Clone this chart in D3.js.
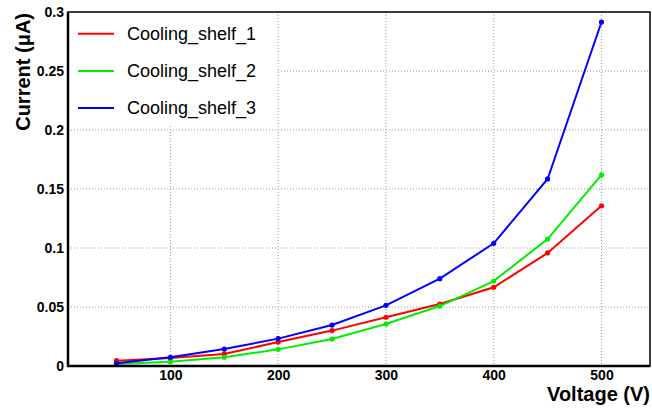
<!DOCTYPE html>
<html>
<head>
<meta charset="utf-8">
<script src="https://cdn.jsdelivr.net/npm/d3@7"></script>
<style>
  body { margin: 0; background: #fff; }
  text { font-family: "Liberation Sans", Arial, sans-serif; }
</style>
</head>
<body>
<div id="plot_area"></div>
<script>
// data
var voltage = [50, 100, 150, 200, 250, 300, 350, 400, 450, 500];
var shelf1 = [0.0045, 0.0068, 0.0102, 0.0203, 0.0300, 0.0413, 0.0525, 0.0667, 0.0958, 0.1358];
var shelf2 = [0.0017, 0.0037, 0.0074, 0.0141, 0.0229, 0.0356, 0.0508, 0.0720, 0.1076, 0.1619];
var shelf3 = [0.0023, 0.0074, 0.0144, 0.0232, 0.0347, 0.0514, 0.0740, 0.1040, 0.1585, 0.2915];
var seriesNames = ["Cooling_shelf_1", "Cooling_shelf_2", "Cooling_shelf_3"];
var seriesColors = ["#ff0000", "#00ee00", "#0000ff"];
var xTicks = [100, 200, 300, 400, 500];
var yTicks = [0, 0.05, 0.1, 0.15, 0.2, 0.25, 0.3];

var W = 652, H = 409;
var margin = {top: 12, right: 2, bottom: 43, left: 68},
    width = W - margin.left - margin.right,
    height = H - margin.top - margin.bottom;

var svg = d3.select("#plot_area")
  .append("svg")
    .attr("width", W)
    .attr("height", H)
  .append("g")
    .attr("transform", "translate(" + margin.left + "," + margin.top + ")");

var x = d3.scaleLinear().domain([5, 545]).range([0, width]);
var y = d3.scaleLinear().domain([0, 0.3]).range([height, 0]);

// grid
svg.append("g")
  .selectAll("line")
  .data(xTicks)
  .enter().append("line")
    .attr("x1", function(d) { return x(d); })
    .attr("x2", function(d) { return x(d); })
    .attr("y1", 0).attr("y2", height)
    .attr("stroke", "#999").attr("stroke-width", 1)
    .attr("stroke-dasharray", "1,2");
svg.append("g")
  .selectAll("line")
  .data(yTicks.slice(1))
  .enter().append("line")
    .attr("x1", 0).attr("x2", width)
    .attr("y1", function(d) { return y(d); })
    .attr("y2", function(d) { return y(d); })
    .attr("stroke", "#999").attr("stroke-width", 1)
    .attr("stroke-dasharray", "1,2");

// legend background covers the grid
svg.append("rect")
  .attr("x", 1).attr("y", 3)
  .attr("width", 208).attr("height", 110)
  .attr("fill", "#fff");

// axes labels
var xAxis = svg.append("g")
  .attr("transform", "translate(0," + height + ")")
  .call(d3.axisBottom(x).tickValues(xTicks).tickSize(0).tickPadding(4).tickFormat(d3.format("d")));
xAxis.select(".domain").remove();
xAxis.attr("font-family", "Liberation Sans, Arial, sans-serif").attr("font-size", 14);
xAxis.selectAll("text")
  .style("font-weight", "bold").attr("fill", "#000");

var yAxis = svg.append("g")
  .call(d3.axisLeft(y).tickValues(yTicks).tickSize(0).tickPadding(4)
    .tickFormat(function(d) { return d === 0 ? "0" : String(+d.toFixed(2)); }));
yAxis.select(".domain").remove();
yAxis.attr("font-family", "Liberation Sans, Arial, sans-serif").attr("font-size", 14);
yAxis.selectAll("text")
  .style("font-weight", "bold").attr("fill", "#000");

// series
var allSeries = [shelf1, shelf2, shelf3];
var line = d3.line()
  .x(function(d, i) { return x(voltage[i]); })
  .y(function(d) { return y(d); });

allSeries.forEach(function(s, k) {
  svg.append("path")
    .datum(s)
    .attr("d", line)
    .attr("fill", "none")
    .attr("stroke", seriesColors[k])
    .attr("stroke-width", 2);
  svg.append("g")
    .selectAll("circle")
    .data(s)
    .enter().append("circle")
      .attr("cx", function(d, i) { return x(voltage[i]); })
      .attr("cy", function(d) { return y(d); })
      .attr("r", 2.6)
      .attr("fill", seriesColors[k]);
});

// frame
svg.append("rect")
  .attr("x", 0).attr("y", 0)
  .attr("width", width).attr("height", height)
  .attr("fill", "none").attr("stroke", "#000").attr("stroke-width", 1.5);
svg.append("line")
  .attr("x1", 0).attr("x2", 0).attr("y1", 0).attr("y2", height + 1)
  .attr("stroke", "#000").attr("stroke-width", 2.5);
svg.append("line")
  .attr("x1", -1).attr("x2", width).attr("y1", height).attr("y2", height)
  .attr("stroke", "#000").attr("stroke-width", 2.5);

// legend
var legend = svg.append("g").attr("transform", "translate(10,0)");
seriesNames.forEach(function(name, k) {
  var ly = 21.7 + k * 37.2;
  legend.append("line")
    .attr("x1", 0).attr("x2", 36).attr("y1", ly).attr("y2", ly)
    .attr("stroke", seriesColors[k]).attr("stroke-width", 2);
  legend.append("text")
    .attr("x", 49).attr("y", ly + 6)
    .style("font-size", "18px")
    .text(name);
});

// axis titles
svg.append("text")
  .attr("x", width).attr("y", height + 35)
  .attr("text-anchor", "end")
  .style("font-weight", "bold").style("font-size", "20px")
  .text("Voltage (V)");
svg.append("text")
  .attr("transform", "translate(" + (-38) + ",1) rotate(-90)")
  .attr("text-anchor", "end")
  .style("font-weight", "bold").style("font-size", "20px")
  .text("Current (\u03bcA)");
</script>
</body>
</html>
